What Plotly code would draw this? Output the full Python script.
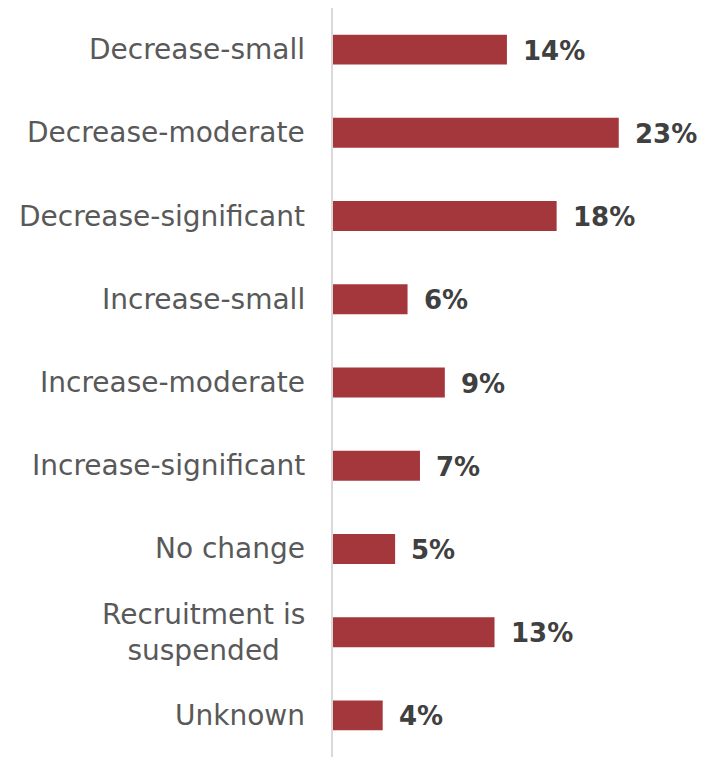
import plotly.graph_objects as go

categories = ["Decrease-small", "Decrease-moderate", "Decrease-significant",
              "Increase-small", "Increase-moderate", "Increase-significant",
              "No change", "Recruitment is<br>suspended", "Unknown"]
values = [14, 23, 18, 6, 9, 7, 5, 13, 4]

BAR_COLOR = "#A3373C"
LABEL_COLOR = "#595959"
VALUE_COLOR = "#404040"

fig = go.Figure()
fig.add_trace(go.Bar(
    x=values, y=categories, orientation="h",
    marker=dict(color=BAR_COLOR, line=dict(width=0)),
    hoverinfo="skip",
))

annotations = []
for c, v in zip(categories, values):
    annotations.append(dict(
        x=0, y=c, xref="paper", yref="y", text=c, showarrow=False,
        xanchor="right", yanchor="middle", xshift=-26, align="center",
        font=dict(family="DejaVu Sans", size=28, color=LABEL_COLOR),
    ))
    annotations.append(dict(
        x=v, y=c, xref="x", yref="y", text=f"<b>{v}%</b>", showarrow=False,
        xanchor="left", yanchor="middle", xshift=14, yshift=-1,
        font=dict(family="DejaVu Sans", size=26, color=VALUE_COLOR),
    ))

fig.update_layout(
    width=702, height=757,
    margin=dict(l=333, r=0, t=8, b=0),
    paper_bgcolor="white", plot_bgcolor="white",
    bargap=0.64, showlegend=False,
    annotations=annotations,
    xaxis=dict(range=[0, 29.7], visible=False, fixedrange=True),
    yaxis=dict(autorange="reversed", showticklabels=False, ticks="",
               showline=True, linecolor="#d9d9d9", linewidth=2,
               showgrid=False, zeroline=False, fixedrange=True),
)

fig.write_html("out.html", config={"displayModeBar": False},
               post_script="document.body.style.margin='0';document.body.style.overflow='hidden';")
